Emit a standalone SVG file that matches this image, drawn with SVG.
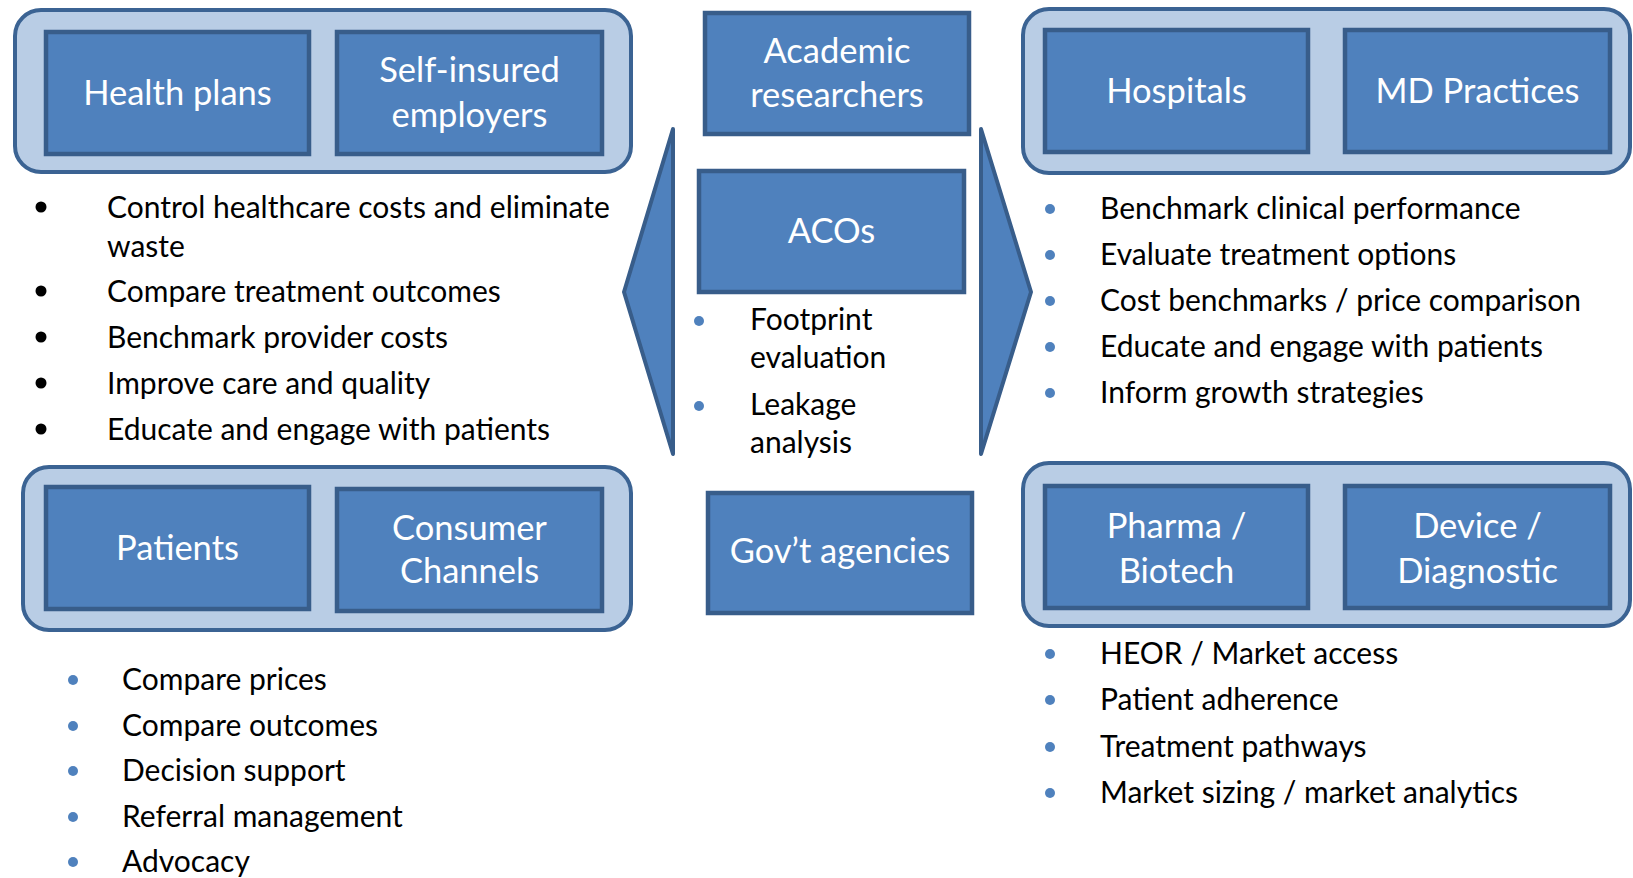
<svg xmlns="http://www.w3.org/2000/svg" width="1633" height="878" viewBox="0 0 1633 878">
<style>
.outer{fill:#B9CDE5;stroke:#3B6393;stroke-width:4}
.box{fill:#4F81BD;stroke:#385D8A;stroke-width:4.5}
.arrow{fill:#4F81BD;stroke:#385D8A;stroke-width:4;stroke-linejoin:round}
.bt{font-family:Lato,"Open Sans",sans-serif;font-size:34.5px;fill:#FFFFFF;text-anchor:middle}
.li{font-family:Lato,"Open Sans",sans-serif;font-size:30px;fill:#000000}
.db{fill:#4F81BD}
.kb{fill:#000000}
</style>
<rect width="1633" height="878" fill="#FFFFFF"/>
<g id="connectors">
<polygon class="arrow" points="673,129 624,292 673,454"/>
<polygon class="arrow" points="981,129 1031,292 981,454"/>
</g>
<g id="group-payers">
<rect class="outer" x="15" y="10" width="616" height="162" rx="26"/>
</g>
<g id="health-plans">
<rect class="box" x="46" y="32" width="263" height="122"/>
<text class="bt" x="177.5" y="105">Health plans</text>
</g>
<g id="self-insured">
<rect class="box" x="337" y="32" width="265" height="122"/>
<text class="bt" x="469.5" y="82">Self-insured</text>
<text class="bt" x="469.5" y="127">employers</text>
</g>
<g id="academic">
<rect class="box" x="705" y="13" width="264" height="121"/>
<text class="bt" x="837" y="63">Academic</text>
<text class="bt" x="837" y="107">researchers</text>
</g>
<g id="group-providers">
<rect class="outer" x="1023" y="9" width="607" height="164" rx="26"/>
</g>
<g id="hospitals">
<rect class="box" x="1045" y="30" width="263" height="122"/>
<text class="bt" x="1176.5" y="103">Hospitals</text>
</g>
<g id="md-practices">
<rect class="box" x="1345" y="30" width="265" height="122"/>
<text class="bt" x="1477.5" y="103">MD Practices</text>
</g>
<g id="acos">
<rect class="box" x="699" y="171" width="265" height="121"/>
<text class="bt" x="831.5" y="243">ACOs</text>
</g>
<g id="list-payers">
<circle class="kb" cx="41" cy="207" r="5.5"/>
<text class="li" x="107" y="218">Control healthcare costs and eliminate</text>
<text class="li" x="107" y="257">waste</text>
<circle class="kb" cx="41" cy="291" r="5.5"/>
<text class="li" x="107" y="302">Compare treatment outcomes</text>
<circle class="kb" cx="41" cy="337" r="5.5"/>
<text class="li" x="107" y="348">Benchmark provider costs</text>
<circle class="kb" cx="41" cy="383" r="5.5"/>
<text class="li" x="107" y="394">Improve care and quality</text>
<circle class="kb" cx="41" cy="429" r="5.5"/>
<text class="li" x="107" y="440">Educate and engage with patients</text>
</g>
<g id="list-providers">
<circle class="db" cx="1050" cy="209" r="5"/>
<text class="li" x="1100" y="219">Benchmark clinical performance</text>
<circle class="db" cx="1050" cy="255" r="5"/>
<text class="li" x="1100" y="265">Evaluate treatment options</text>
<circle class="db" cx="1050" cy="301" r="5"/>
<text class="li" x="1100" y="311">Cost benchmarks / price comparison</text>
<circle class="db" cx="1050" cy="347" r="5"/>
<text class="li" x="1100" y="357">Educate and engage with patients</text>
<circle class="db" cx="1050" cy="393" r="5"/>
<text class="li" x="1100" y="403">Inform growth strategies</text>
</g>
<g id="list-acos">
<circle class="db" cx="699" cy="321" r="5"/>
<text class="li" x="750" y="330">Footprint</text>
<text class="li" x="750" y="368">evaluation</text>
<circle class="db" cx="699" cy="406" r="5"/>
<text class="li" x="750" y="415">Leakage</text>
<text class="li" x="750" y="453">analysis</text>
</g>
<g id="group-consumers">
<rect class="outer" x="23" y="467" width="608" height="163" rx="26"/>
</g>
<g id="patients">
<rect class="box" x="46" y="487" width="263" height="122"/>
<text class="bt" x="177.5" y="560">Patients</text>
</g>
<g id="consumer-channels">
<rect class="box" x="337" y="489" width="265" height="122"/>
<text class="bt" x="469.5" y="540">Consumer</text>
<text class="bt" x="469.5" y="583">Channels</text>
</g>
<g id="govt">
<rect class="box" x="708" y="493" width="264" height="120"/>
<text class="bt" x="840" y="563">Gov’t agencies</text>
</g>
<g id="group-industry">
<rect class="outer" x="1023" y="463" width="607" height="163" rx="26"/>
</g>
<g id="pharma">
<rect class="box" x="1045" y="486" width="263" height="122"/>
<text class="bt" x="1176.5" y="538">Pharma /</text>
<text class="bt" x="1176.5" y="583">Biotech</text>
</g>
<g id="device">
<rect class="box" x="1345" y="486" width="265" height="122"/>
<text class="bt" x="1477.5" y="538">Device /</text>
<text class="bt" x="1477.5" y="583">Diagnostic</text>
</g>
<g id="list-industry">
<circle class="db" cx="1050" cy="654" r="5"/>
<text class="li" x="1100" y="664">HEOR / Market access</text>
<circle class="db" cx="1050" cy="700" r="5"/>
<text class="li" x="1100" y="710">Patient adherence</text>
<circle class="db" cx="1050" cy="747" r="5"/>
<text class="li" x="1100" y="757">Treatment pathways</text>
<circle class="db" cx="1050" cy="793" r="5"/>
<text class="li" x="1100" y="803">Market sizing / market analytics</text>
</g>
<g id="list-consumers">
<circle class="db" cx="73" cy="680" r="5"/>
<text class="li" x="122" y="690">Compare prices</text>
<circle class="db" cx="73" cy="726" r="5"/>
<text class="li" x="122" y="736">Compare outcomes</text>
<circle class="db" cx="73" cy="771" r="5"/>
<text class="li" x="122" y="781">Decision support</text>
<circle class="db" cx="73" cy="817" r="5"/>
<text class="li" x="122" y="827">Referral management</text>
<circle class="db" cx="73" cy="862" r="5"/>
<text class="li" x="122" y="872">Advocacy</text>
</g>
</svg>
